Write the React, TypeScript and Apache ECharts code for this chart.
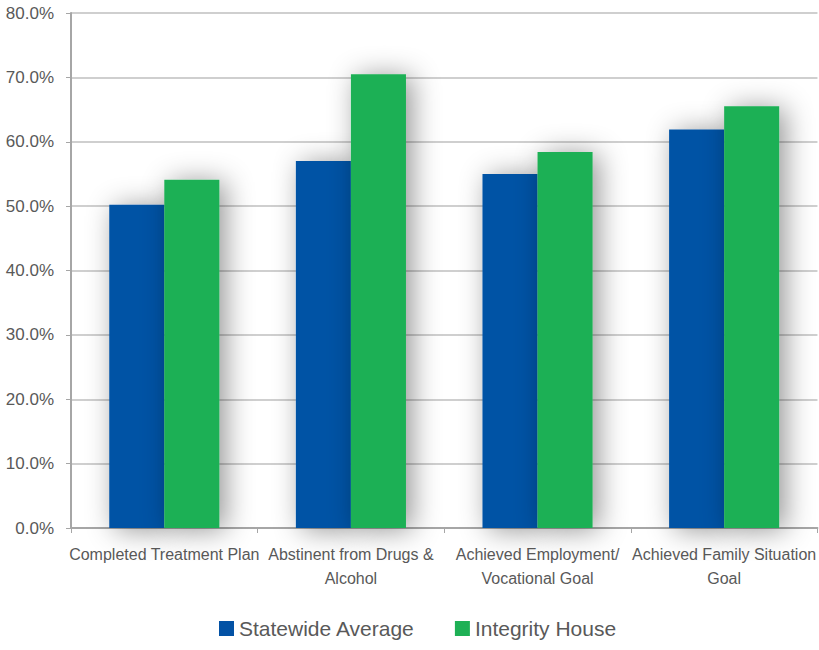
import React, { useEffect, useRef } from "react";
import * as echarts from "echarts";

const categories = [
  "Completed Treatment Plan",
  "Abstinent from Drugs &\nAlcohol",
  "Achieved Employment/\nVocational Goal",
  "Achieved Family Situation\nGoal",
];
const statewide = [50.2, 57.0, 55.0, 61.9];
const integrity = [54.1, 70.5, 58.4, 65.5];
const seriesNames = ["Statewide Average", "Integrity House"];

const FONT = "'Liberation Sans Narrow', 'Arial Narrow', 'Liberation Sans', sans-serif";

export default function App() {
  const ref = useRef<HTMLDivElement>(null);
  useEffect(() => {
    if (!ref.current) return;
    const chart = echarts.init(ref.current, undefined, { renderer: "svg" });
    const shadow = {
      shadowBlur: 28,
      shadowColor: "rgba(0,0,0,0.42)",
      shadowOffsetX: 6,
      shadowOffsetY: 2,
    };
    chart.setOption({
      animation: false,
      backgroundColor: "#ffffff",
      textStyle: { fontFamily: FONT },
      grid: { left: 71, right: 0, top: 13, bottom: 122, containLabel: false },
      legend: {
        bottom: 6,
        left: 214,
        itemWidth: 15,
        itemHeight: 15,
        itemGap: 40,
        icon: "rect",
        textStyle: { fontFamily: FONT, fontSize: 21, color: "#595959" },
        data: seriesNames,
      },
      xAxis: {
        type: "category",
        data: categories,
        axisLine: { lineStyle: { color: "#a6a6a6", width: 2 } },
        axisTick: { show: true, length: 5, lineStyle: { color: "#a6a6a6", width: 1 } },
        axisLabel: {
          fontFamily: FONT,
          fontSize: 16,
          color: "#595959",
          margin: 14,
          lineHeight: 24,
          interval: 0,
        },
      },
      yAxis: {
        type: "value",
        min: 0,
        max: 80,
        interval: 10,
        axisLine: { show: true, lineStyle: { color: "#a6a6a6", width: 2 } },
        axisTick: { show: true, length: 5, lineStyle: { color: "#a6a6a6", width: 1 } },
        splitLine: { lineStyle: { color: "#bfbfbf", width: 1.5 } },
        axisLabel: {
          fontFamily: FONT,
          fontSize: 17,
          color: "#595959",
          margin: 17,
          formatter: (v: number) => v.toFixed(1) + "%",
        },
      },
      series: [
        {
          name: seriesNames[0],
          type: "bar",
          data: statewide,
          barGap: "0%",
          barCategoryGap: "41%",
          itemStyle: { color: "#0352a5", ...shadow },
        },
        {
          name: seriesNames[1],
          type: "bar",
          data: integrity,
          barGap: "0%",
          barCategoryGap: "41%",
          itemStyle: { color: "#1eb055", ...shadow },
        },
      ],
    });
    return () => chart.dispose();
  }, []);
  return (
    <div
      ref={ref}
      style={{ position: "fixed", left: 0, top: 0, width: 819, height: 650 }}
    />
  );
}
